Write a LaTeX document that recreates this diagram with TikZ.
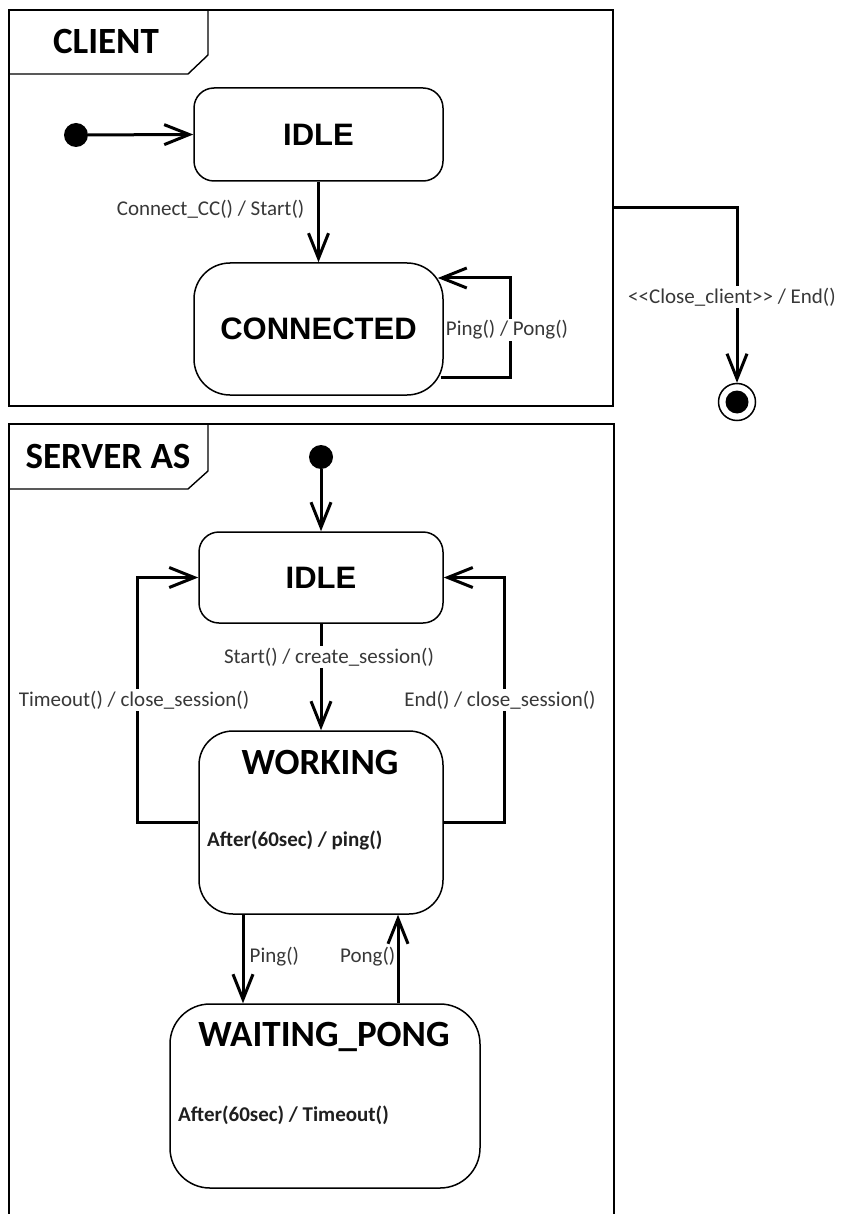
\documentclass[tikz,border=0pt]{standalone}
\usepackage{fontspec}
\setmainfont{Carlito}
\newfontfamily\helv{Liberation Sans}
\usetikzlibrary{arrows.meta,calc}

\begin{document}
\begin{tikzpicture}[x=1pt,y=-1pt,
  frame/.style={draw, line width=1.4pt},
  statebox/.style={draw, line width=1.5pt, rectangle, inner sep=0pt},
  tr/.style={line width=3pt, -{Straight Barb[length=25pt,width=20pt]}},
  lbl/.style={font=\fontsize{21}{24}\selectfont, text=black!78, fill=white, inner sep=1.5pt},
  act/.style={font=\bfseries\fontsize{21}{24}\selectfont, text=black!88, inner sep=0pt},
  ttl/.style={font=\bfseries\fontsize{37}{40}\selectfont, inner sep=0pt},
  bigname/.style={font=\helv\bfseries\fontsize{31}{34}\selectfont},
  initdot/.style={circle, fill=black, inner sep=0pt, minimum size=24pt},
]
\fill[white] (0,0) rectangle (841,1214);
\useasboundingbox (0,0) rectangle (841,1214);

% ---------------- client machine ----------------
\node[frame, minimum width=604pt, minimum height=396pt, inner sep=0pt] (cframe) at (311,208) {};
\draw[frame] (9,74) -- (188,74) -- (208,55) -- (208,10);
\node[ttl] (ctitle) at (106,41) {CLIENT};

\node[initdot] (cinit) at (76,135) {};
\node[statebox, minimum width=249pt, minimum height=93pt, rounded corners=20pt, bigname] (cidle) at (318.5,134.5) {IDLE};
\node[statebox, minimum width=249pt, minimum height=132pt, rounded corners=36pt, bigname] (cconn) at (318.5,329) {CONNECTED};

\draw[tr] (cinit) -- (cidle.west);
\draw[tr] (cidle.south) -- (cconn.north);
\node[lbl, anchor=east] (lcc) at (306,209) {Connect\_CC() / Start()};

\draw[tr] ($(cconn.east)+(-3,48)$) -| ($(cconn.east)+(67,-51)$) -- ($(cconn.east)+(-6,-51)$);
\node[lbl] (lpp) at (507,330) {Ping() / Pong()};

% final state reached from the client frame
\node[circle, draw, line width=1.5pt, minimum size=37pt, inner sep=0pt] (fin) at (737,402) {};
\node[circle, fill=black, minimum size=23pt, inner sep=0pt] (fincore) at (fin.center) {};
\draw[tr] (cframe.east) -| (fin.north);
\node[lbl] (lclose) at (732,297) {<{}<Close\_client>{}> / End()};

% ---------------- server machine ----------------
\draw[frame] (9,1218) -- (9,424) -- (614,424) -- (614,1218);
\draw[frame] (9,489) -- (188,489) -- (208,471) -- (208,424);
\node[ttl] (stitle) at (108,456) {SERVER AS};

\node[initdot] (sinit) at (321,457) {};
\node[statebox, minimum width=244pt, minimum height=91pt, rounded corners=20pt, bigname] (sidle) at (321,577.5) {IDLE};
\node[statebox, minimum width=244pt, minimum height=183pt, rounded corners=34pt] (swork) at (321,822.5) {};
\node[ttl] (tw) at (320,762) {WORKING};
\node[act, anchor=west] (aw) at (207,840) {After(60sec) / ping()};
\node[statebox, minimum width=310pt, minimum height=184pt, rounded corners=40pt] (swait) at (325,1096) {};
\node[ttl] (tp) at (324,1037) {WAITING\_PONG};
\node[act, anchor=west] (ap) at (178,1115) {After(60sec) / Timeout()};

\draw[tr] (sinit) -- (sidle.north);
\draw[tr] (sidle.south) -- (swork.north);
\node[lbl] (lstart) at (329,657) {Start() / create\_session()};

\draw[tr] (swork.west) -- ++(-61,0) |- (sidle.west);
\node[lbl] (ltime) at (134,700) {Timeout() / close\_session()};
\draw[tr] (swork.east) -- ++(61,0) |- (sidle.east);
\node[lbl] (lend) at (500,700) {End() / close\_session()};

\coordinate (pingx) at (243,0);
\coordinate (pongx) at (398,0);
\draw[tr] (swork.south -| pingx) -- (swait.north -| pingx);
\node[lbl, fill=none, anchor=west] (lping) at (248,957) {Ping()};
\draw[tr] (swait.north -| pongx) -- (swork.south -| pongx);
\node[lbl, fill=none, anchor=east] (lpong) at (397,957) {Pong()};
\end{tikzpicture}
\end{document}
